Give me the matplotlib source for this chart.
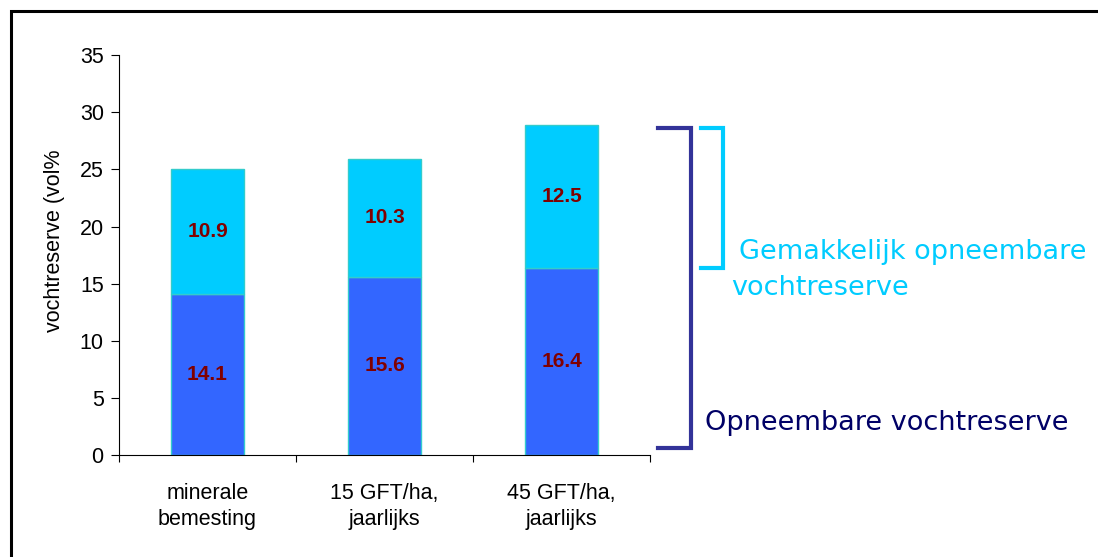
import matplotlib.pyplot as plt
from matplotlib.patches import Rectangle
from matplotlib.transforms import blended_transform_factory

# stacked water reserve per treatment (vol%)
categories = ["minerale\nbemesting", "15 GFT/ha,\njaarlijks", "45 GFT/ha,\njaarlijks"]
opneembaar = [14.1, 15.6, 16.4]
gemakkelijk = [10.9, 10.3, 12.5]

BLUE = "#3366FF"
CYAN = "#00CCFF"
EDGE = "#33CCCC"
LABEL_RED = "#800000"
NAVY_TEXT = "#000066"
NAVY_LINE = "#333399"

plt.rcParams["font.family"] = ["Liberation Sans", "DejaVu Sans"]

fig = plt.figure(figsize=(10.98, 5.57), dpi=100)
ax = fig.add_axes([0.1084, 0.183, 0.4836, 0.718])

x = list(range(len(categories)))
width = 0.41
ax.bar(x, opneembaar, width, color=BLUE, edgecolor=EDGE, linewidth=1)
totals = [a + b for a, b in zip(opneembaar, gemakkelijk)]
ax.bar(x, gemakkelijk, width, bottom=opneembaar, color=CYAN, edgecolor=EDGE, linewidth=1)

for xi, lo, hi in zip(x, opneembaar, gemakkelijk):
    ax.text(xi, lo / 2, f"{lo:.1f}", ha="center", va="center",
            fontsize=15, fontweight="bold", color=LABEL_RED)
    ax.text(xi, lo + hi / 2, f"{hi:.1f}", ha="center", va="center",
            fontsize=15, fontweight="bold", color=LABEL_RED)

ax.set_xlim(-0.5, len(categories) - 0.5)
ax.set_ylim(0, 35)
ax.set_yticks(range(0, 36, 5))
ax.tick_params(axis="y", labelsize=15.5, length=6, width=0.8, pad=5)
ax.set_xticks(x)
ax.set_xticklabels(categories, fontsize=15.5, linespacing=1.35)
ax.tick_params(axis="x", which="major", length=0, pad=20)
ax.set_xticks([i - 0.5 for i in range(len(categories) + 1)], minor=True)
ax.tick_params(axis="x", which="minor", length=5, width=0.8)
for side in ("top", "right"):
    ax.spines[side].set_visible(False)
for side in ("left", "bottom"):
    ax.spines[side].set_linewidth(0.8)

ax.set_ylabel("vochtreserve (vol%", fontsize=15.5)
ax.yaxis.set_label_coords(-0.102, 0.535)

# brackets to the right of the chart, y in data units, x in figure fraction
tr = blended_transform_factory(fig.transFigure, ax.transData)
top = totals[-1] - 0.3
xb0, xb1 = 658 / 1098, 691 / 1098
ax.plot([xb0, xb1, xb1, xb0], [top, top, 0.6, 0.6], color=NAVY_LINE,
        lw=3, transform=tr, clip_on=False, solid_joinstyle="miter")
xs0, xs1 = 701 / 1098, 723 / 1098
ax.plot([xs0, xs1, xs1, xs0], [top, top, opneembaar[-1], opneembaar[-1]],
        color=CYAN, lw=3, transform=tr, clip_on=False, solid_joinstyle="miter")

fig.text(739 / 1098, 1 - 259 / 557, "Gemakkelijk opneembare", color=CYAN,
         fontsize=19.5, family="DejaVu Sans", va="baseline")
fig.text(731 / 1098, 1 - 295 / 557, "vochtreserve", color=CYAN,
         fontsize=19.5, family="DejaVu Sans", va="baseline")
fig.text(705 / 1098, 1 - 430 / 557, "Opneembare vochtreserve", color=NAVY_TEXT,
         fontsize=19.5, family="DejaVu Sans", va="baseline")

# outer frame, running off the right and bottom edges
fig.patches.append(Rectangle((11 / 1098, -0.1), 1.2, 1 - 11 / 557 + 0.1,
                             transform=fig.transFigure, fill=False,
                             edgecolor="black", linewidth=2.2))

fig.savefig("out.png", dpi=100)
